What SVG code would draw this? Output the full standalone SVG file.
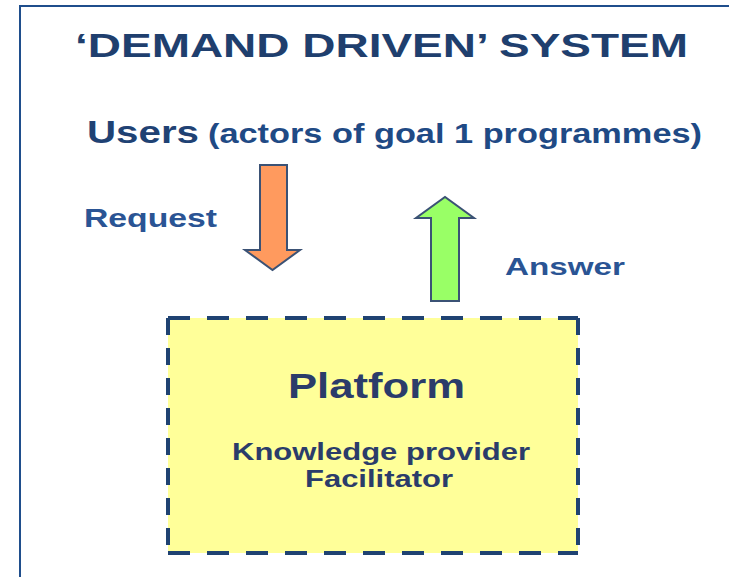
<svg xmlns="http://www.w3.org/2000/svg" width="729" height="577" viewBox="0 0 729 577">
  <style>
    .t { font-family: "Liberation Sans", Arial, sans-serif; font-weight: bold; }
    .arrow { stroke: #3B5275; stroke-width: 2; stroke-linejoin: miter; }
    .dash { stroke: #1F4272; stroke-width: 4; fill: none; }
  </style>
  <rect width="729" height="577" fill="#FFFFFF"/>
  <path d="M20 577 V6 H729" fill="none" stroke="#1F4E8C" stroke-width="2"/>
  <text class="t" x="75" y="57" font-size="34" fill="#1F3F6E" textLength="613" lengthAdjust="spacingAndGlyphs">‘DEMAND DRIVEN’ SYSTEM</text>
  <g id="users">
    <text class="t" x="87" y="143" font-size="31" fill="#1F4274" textLength="112" lengthAdjust="spacingAndGlyphs">Users</text>
    <text class="t" x="208" y="143" font-size="27" fill="#1F4A85" textLength="494" lengthAdjust="spacingAndGlyphs">(actors of goal 1 programmes)</text>
  </g>
  <g id="connectors">
    <g id="request">
      <polygon class="arrow" fill="#FF9A5E" points="260,165 287,165 287,250 300,250 272.5,270 245,250 260,250"/>
      <text class="t" x="84" y="227" font-size="25" fill="#2A5494" textLength="133" lengthAdjust="spacingAndGlyphs">Request</text>
    </g>
    <g id="answer">
      <polygon class="arrow" fill="#99FF66" points="431,301 459,301 459,218 474,218 445,197 416,218 431,218"/>
      <text class="t" x="505" y="275" font-size="24" fill="#2A5494" textLength="120" lengthAdjust="spacingAndGlyphs">Answer</text>
    </g>
  </g>
  <g id="platform">
    <rect x="168" y="318" width="410" height="235" fill="#FFFF99"/>
    <line class="dash" x1="168" y1="318" x2="578" y2="318" stroke-dasharray="22 17"/>
    <line class="dash" x1="168" y1="553" x2="578" y2="553" stroke-dasharray="22 17"/>
    <line class="dash" x1="168" y1="318" x2="168" y2="553" stroke-width="4.5" stroke-dasharray="17 13"/>
    <line class="dash" x1="578" y1="318" x2="578" y2="553" stroke-width="4.5" stroke-dasharray="17 13"/>
    <text class="t" x="288" y="398" font-size="35" fill="#2B3C6A" textLength="177" lengthAdjust="spacingAndGlyphs">Platform</text>
    <text class="t" x="232" y="460" font-size="23" fill="#2B3C6A" textLength="298" lengthAdjust="spacingAndGlyphs">Knowledge provider</text>
    <text class="t" x="305" y="487" font-size="23" fill="#2B3C6A" textLength="148" lengthAdjust="spacingAndGlyphs">Facilitator</text>
  </g>
</svg>
